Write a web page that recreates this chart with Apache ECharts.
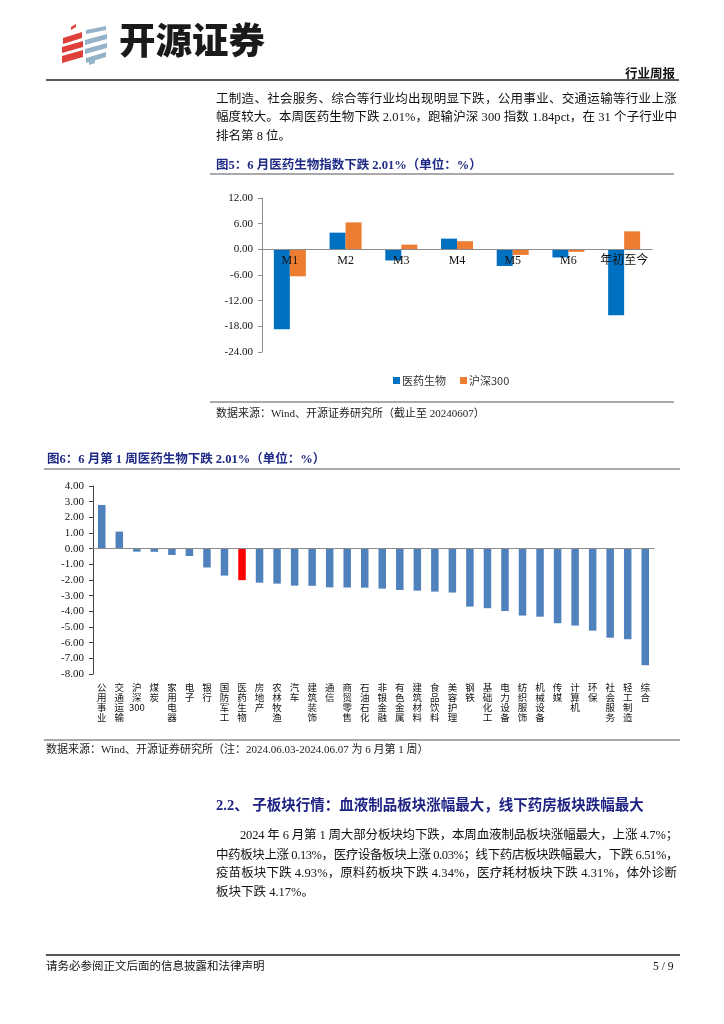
<!DOCTYPE html>
<html>
<head>
<meta charset="utf-8">
<script src="https://cdn.jsdelivr.net/npm/echarts@6/dist/echarts.min.js"></script>
<style>
html,body{margin:0;padding:0;background:#fff;}
#page{position:relative;width:724px;height:1024px;overflow:hidden;}
#chart{position:absolute;left:0;top:0;width:724px;height:1024px;}
.t{position:absolute;white-space:nowrap;font-family:"Liberation Serif","Noto Sans CJK SC",serif;color:#111;}
.fit{display:inline-block;}
</style>
</head>
<body>
<div id="page">
<div id="chart"></div>
<div class="t" style="left:625px;top:65px;font-size:12.5px;font-weight:bold;line-height:18px;">行业周报</div>
<div class="t fit" data-w="461" style="left:216px;top:90px;font-size:12.5px;line-height:18px;">工制造、社会服务、综合等行业均出现明显下跌，公用事业、交通运输等行业上涨</div>
<div class="t fit" data-w="461" style="left:216px;top:108px;font-size:12.5px;line-height:18px;">幅度较大。本周医药生物下跌 2.01%，跑输沪深 300 指数 1.84pct，在 31 个子行业中</div>
<div class="t" style="left:216px;top:127px;font-size:12.5px;line-height:18px;">排名第 8 位。</div>
<div class="t" style="left:216px;top:156px;font-size:12.5px;font-weight:bold;line-height:18px;color:#1e2a84;">图5：6 月医药生物指数下跌 2.01%（单位：%）</div>
<div class="t" style="left:216px;top:404px;font-size:11px;line-height:18px;color:#222;">数据来源：Wind、开源证券研究所（截止至 20240607）</div>
<div class="t" style="left:47px;top:450px;font-size:12.5px;font-weight:bold;line-height:18px;color:#1e2a84;">图6：6 月第 1 周医药生物下跌 2.01%（单位：%）</div>
<div class="t" style="left:46px;top:740px;font-size:11px;line-height:18px;color:#222;">数据来源：Wind、开源证券研究所（注：2024.06.03-2024.06.07 为 6 月第 1 周）</div>
<div class="t" style="left:216px;top:795px;font-size:14.5px;font-weight:bold;line-height:20px;color:#1e2384;">2.2、 子板块行情：血液制品板块涨幅最大，线下药房板块跌幅最大</div>
<div class="t fit" data-w="438" style="left:240px;top:826px;font-size:12.5px;line-height:18px;">2024 年 6 月第 1 周大部分板块均下跌，本周血液制品板块涨幅最大，上涨 4.7%；</div>
<div class="t fit" data-w="462" style="left:216px;top:846px;font-size:12.5px;line-height:18px;">中药板块上涨 0.13%，医疗设备板块上涨 0.03%；线下药店板块跌幅最大，下跌 6.51%，</div>
<div class="t fit" data-w="461" style="left:216px;top:864px;font-size:12.5px;line-height:18px;">疫苗板块下跌 4.93%，原料药板块下跌 4.34%，医疗耗材板块下跌 4.31%，体外诊断</div>
<div class="t" style="left:216px;top:883px;font-size:12.5px;line-height:18px;">板块下跌 4.17%。</div>
<div class="t" style="left:46px;top:957px;font-size:11.5px;line-height:18px;">请务必参阅正文后面的信息披露和法律声明</div>
<div class="t" style="left:653px;top:957px;font-size:11.5px;line-height:18px;">5 / 9</div>
</div>
<script>
// ---- Figure 5 data ----
var cats1 = ['M1', 'M2', 'M3', 'M4', 'M5', 'M6', '年初至今'];
var yiyao = [-18.7, 3.9, -2.6, 2.5, -3.9, -1.9, -15.4];
var hs300 = [-6.3, 6.3, 1.1, 1.9, -1.3, -0.6, 4.2];
var legend1 = ['医药生物', '沪深300'];
var y1Min = -24, y1Max = 12, y1Step = 6;

// ---- Figure 6 data ----
var cats2 = ['公用事业', '交通运输', '沪深300', '煤炭', '家用电器', '电子', '银行', '国防军工',
  '医药生物', '房地产', '农林牧渔', '汽车', '建筑装饰', '通信', '商贸零售', '石油石化',
  '非银金融', '有色金属', '建筑材料', '食品饮料', '美容护理', '钢铁', '基础化工', '电力设备',
  '纺织服饰', '机械设备', '传媒', '计算机', '环保', '社会服务', '轻工制造', '综合'];
var vals2 = [2.79, 1.09, -0.19, -0.2, -0.4, -0.47, -1.2, -1.72,
  -2.01, -2.17, -2.23, -2.36, -2.37, -2.47, -2.48, -2.49,
  -2.55, -2.64, -2.68, -2.74, -2.8, -3.7, -3.8, -3.98,
  -4.27, -4.34, -4.76, -4.91, -5.23, -5.68, -5.78, -7.44];
var highlight = '医药生物';
var y2Min = -8, y2Max = 4, y2Step = 1;

// justify prose lines to their measured column width
document.querySelectorAll('.fit').forEach(function (el) {
  var target = +el.getAttribute('data-w');
  var w = el.getBoundingClientRect().width;
  var n = el.textContent.length;
  el.style.letterSpacing = ((target - w) / n) + 'px';
});

var serif = '"Liberation Serif","Noto Sans CJK SC",serif';

function vertLabel(s) {
  var m = s.match(/^(.*?)(\d+)$/);
  var parts = m ? m[1].split('').concat([m[2]]) : s.split('');
  return parts.join('\n');
}

var chart = echarts.init(document.getElementById('chart'), null, {renderer: 'canvas'});

function quad(x, y, w, h, t, color) {
  return {type: 'polygon', shape: {points: [[x, y + h], [x + w, y], [x + w, y + t], [x, y + h + t]]}, style: {fill: color}};
}

var red = '#e0403a', gb = '#94b3c6';
var graphics = [
  // logo
  quad(71, 24, 5, 3, 3, red),
  quad(63, 32, 19, 6, 6, red),
  quad(62, 41, 21, 6, 6, red),
  quad(62, 50, 21, 6, 7, red),
  quad(86, 26, 20, 4, 4, gb),
  quad(85, 34, 22, 6, 5, gb),
  quad(85, 43, 22, 6, 5, gb),
  quad(86, 52, 20, 6, 5, gb),
  quad(89, 60, 6, 2, 3, gb),
  {type: 'text', left: 119, top: 22, style: {text: '开源证券', font: '900 36.5px "Noto Sans CJK SC"', fill: '#1a1a1a'}},
  // page rules
  {type: 'line', shape: {x1: 46, y1: 80, x2: 679, y2: 80}, style: {stroke: '#222', lineWidth: 1.5}},
  {type: 'line', shape: {x1: 210, y1: 174, x2: 674, y2: 174}, style: {stroke: '#555', lineWidth: 1}},
  {type: 'line', shape: {x1: 210, y1: 402, x2: 674, y2: 402}, style: {stroke: '#555', lineWidth: 1}},
  {type: 'line', shape: {x1: 44, y1: 469, x2: 680, y2: 469}, style: {stroke: '#555', lineWidth: 1}},
  {type: 'line', shape: {x1: 44, y1: 740, x2: 680, y2: 740}, style: {stroke: '#555', lineWidth: 1}},
  {type: 'line', shape: {x1: 46, y1: 955, x2: 680, y2: 955}, style: {stroke: '#555', lineWidth: 2}}
];

var g1 = {left: 262, top: 198, width: 390, height: 154};
var g2 = {left: 93, top: 486, width: 561, height: 188};
// place figure-5 category axis (line + labels) on the zero value
var zeroOffset1 = -g1.height * (0 - y1Min) / (y1Max - y1Min);

var option = {
  animation: false,
  backgroundColor: '#fff',
  graphic: graphics,
  legend: {
    data: legend1, left: 388, top: 370, itemWidth: 7, itemHeight: 7, itemGap: 14,
    icon: 'rect',
    textStyle: {fontFamily: '"Noto Sans CJK SC"', fontSize: 11, color: '#333', padding: [0, 0, 0, -3]}
  },
  grid: [g1, g2],
  xAxis: [
    {
      gridIndex: 0, type: 'category', data: cats1, position: 'bottom', offset: zeroOffset1, z: 10,
      axisLine: {onZero: false, lineStyle: {color: '#8c8c8c'}},
      axisTick: {length: 3, lineStyle: {color: '#8c8c8c'}},
      axisLabel: {margin: 6, fontFamily: serif, fontSize: 12, color: '#111', interval: 0}
    },
    {
      gridIndex: 1, type: 'category', data: cats2, position: 'bottom',
      axisLine: {show: false, onZero: false}, axisTick: {show: false},
      axisLabel: {
        margin: 8, interval: 0, fontFamily: '"Noto Sans CJK SC"', fontSize: 9.5, lineHeight: 10,
        color: '#111', verticalAlign: 'top', formatter: vertLabel
      }
    },
    {
      gridIndex: 1, type: 'category', data: cats2, z: 10,
      axisLine: {onZero: true, lineStyle: {color: '#8c8c8c', width: 1.2}},
      axisTick: {inside: true, length: 3, lineStyle: {color: '#333'}},
      axisLabel: {show: false}
    }
  ],
  yAxis: [
    {
      gridIndex: 0, type: 'value', min: y1Min, max: y1Max, interval: y1Step,
      splitLine: {show: false},
      axisLine: {show: true, lineStyle: {color: '#8c8c8c'}},
      axisTick: {show: true, length: 4, lineStyle: {color: '#8c8c8c'}},
      axisLabel: {margin: 9, fontFamily: serif, fontSize: 11, color: '#111', formatter: function (v) { return v.toFixed(2); }}
    },
    {
      gridIndex: 1, type: 'value', min: y2Min, max: y2Max, interval: y2Step,
      splitLine: {show: false},
      axisLine: {show: true, lineStyle: {color: '#444'}},
      axisTick: {show: true, length: 4, lineStyle: {color: '#444'}},
      axisLabel: {margin: 9, fontFamily: serif, fontSize: 11, color: '#111', formatter: function (v) { return v.toFixed(2); }}
    }
  ],
  series: [
    {name: legend1[0], type: 'bar', xAxisIndex: 0, yAxisIndex: 0, data: yiyao, barWidth: 16, barGap: '0%', itemStyle: {color: '#0070c0'}},
    {name: legend1[1], type: 'bar', xAxisIndex: 0, yAxisIndex: 0, data: hs300, barWidth: 16, barGap: '0%', itemStyle: {color: '#ed7d31'}},
    {
      name: 'fig6', type: 'bar', xAxisIndex: 1, yAxisIndex: 1, barWidth: 7.5,
      data: vals2.map(function (v, i) {
        return cats2[i] === highlight ? {value: v, itemStyle: {color: '#ff0000'}} : v;
      }),
      itemStyle: {color: '#4f81bd'}
    }
  ]
};
chart.setOption(option);
</script>
</body>
</html>
